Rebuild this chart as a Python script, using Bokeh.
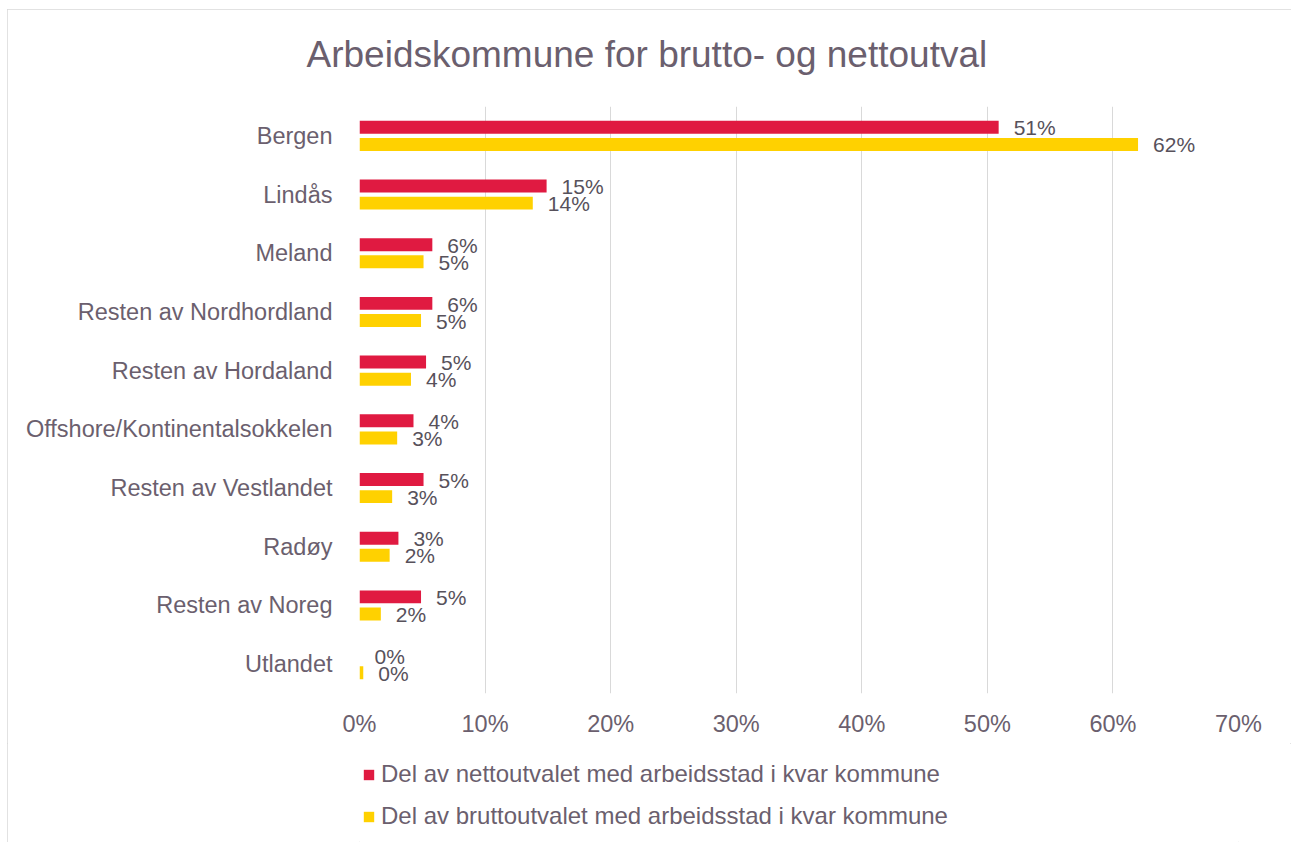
from bokeh.plotting import figure
from bokeh.layouts import column
from bokeh.models import (ColumnDataSource, FactorRange, Range1d, FixedTicker,
                          PrintfTickFormatter, Legend, LegendItem, Title)
from bokeh.transform import dodge
from bokeh.core.properties import value
from bokeh.embed import file_html
from bokeh.resources import INLINE

categories = ["Bergen", "Lindås", "Meland", "Resten av Nordhordland",
              "Resten av Hordaland", "Offshore/Kontinentalsokkelen",
              "Resten av Vestlandet", "Radøy", "Resten av Noreg", "Utlandet"]
netto = [50.9, 14.9, 5.8, 5.8, 5.3, 4.3, 5.1, 3.1, 4.9, 0.0]
brutto = [62.0, 13.8, 5.1, 4.9, 4.1, 3.0, 2.6, 2.4, 1.7, 0.3]
x_ticks = [0, 10, 20, 30, 40, 50, 60, 70]
title_text = "Arbeidskommune for brutto- og nettoutval"
netto_name = "Del av nettoutvalet med arbeidsstad i kvar kommune"
brutto_name = "Del av bruttoutvalet med arbeidsstad i kvar kommune"

RED = "#E01A41"
YELLOW = "#FFD100"
TXT = "#6B5F6E"
LBL = "#57515B"
FONT = "Liberation Sans"

src = ColumnDataSource(dict(
    cat=categories,
    netto=netto,
    brutto=brutto,
    netto_lbl=[f"{int(v + 0.5)}%" for v in netto],
    brutto_lbl=[f"{int(v + 0.5)}%" for v in brutto],
))

p = figure(width=1284, height=734, output_backend="svg", toolbar_location=None,
           y_range=FactorRange(*reversed(categories), range_padding=0),
           x_range=Range1d(0, 70),
           min_border_left=352, min_border_right=53,
           min_border_top=97, min_border_bottom=50)
p.outline_line_color = None

p.hbar(y=dodge("cat", 0.146, range=p.y_range), right="netto", left=0,
       height=0.22, source=src, fill_color=RED, line_color=None)
p.hbar(y=dodge("cat", -0.146, range=p.y_range), right="brutto", left=0,
       height=0.22, source=src, fill_color=YELLOW, line_color=None)

p.text(x="netto", y=dodge("cat", 0.135, range=p.y_range), text="netto_lbl",
       source=src, x_offset=15, text_align="left", text_baseline="middle",
       text_font=value(FONT), text_font_size="21px", text_color=LBL)
p.text(x="brutto", y=dodge("cat", -0.155, range=p.y_range), text="brutto_lbl",
       source=src, x_offset=15, text_align="left", text_baseline="middle",
       text_font=value(FONT), text_font_size="21px", text_color=LBL)

# axes
p.xaxis.ticker = FixedTicker(ticks=x_ticks)
p.xaxis.formatter = PrintfTickFormatter(format="%d%%")
p.xaxis.axis_line_color = None
p.xaxis.major_tick_line_color = None
p.xaxis.minor_tick_line_color = None
p.xaxis.major_label_standoff = 11
p.xaxis.major_label_text_font = FONT
p.xaxis.major_label_text_font_size = "23.5px"
p.xaxis.major_label_text_color = TXT

p.yaxis.axis_line_color = None
p.yaxis.major_tick_line_color = None
p.yaxis.minor_tick_line_color = None
p.yaxis.major_label_standoff = 21
p.yaxis.major_label_text_font = FONT
p.yaxis.major_label_text_font_size = "23.5px"
p.yaxis.major_label_text_color = TXT

p.xgrid.grid_line_color = "#D9D9D9"
p.xgrid.grid_line_width = 1
p.ygrid.grid_line_color = None

# title (with an empty spacer title between it and the frame)
p.title.text = title_text
p.title.align = "left"
p.title.offset = -53
p.title.standoff = 10
p.title.text_font = FONT
p.title.text_font_size = "37px"
p.title.text_font_style = "normal"
p.title.text_color = TXT
p.add_layout(Title(text=" ", text_font_size="1px", standoff=24), "above")

# legend figure below the chart (proxy renderers lie outside its view)
leg = figure(width=1284, height=99, output_backend="svg", toolbar_location=None,
             x_range=Range1d(1000, 1001), y_range=Range1d(1000, 1001),
             x_axis_location=None, y_axis_location=None,
             min_border_left=352, min_border_top=14,
             min_border_right=53, min_border_bottom=0)
leg.outline_line_color = None
leg.grid.visible = False
l_net = leg.hbar(y="netto", right="netto", left=0, height=0.5, source=src,
                 fill_color=RED, line_color=None)
l_bru = leg.hbar(y="brutto", right="brutto", left=0, height=0.5, source=src,
                 fill_color=YELLOW, line_color=None)
legend = Legend(items=[LegendItem(label=netto_name, renderers=[l_net]),
                       LegendItem(label=brutto_name, renderers=[l_bru])],
                location="top_left", orientation="vertical",
                glyph_width=13, glyph_height=13, label_standoff=6,
                label_height=28, spacing=14, padding=0, margin=3,
                border_line_color=None, background_fill_alpha=0,
                label_text_font=FONT, label_text_font_size="24px",
                label_text_color=TXT)
leg.add_layout(legend, "center")

lay = column(p, leg, spacing=0)
lay.styles = {"margin-left": "7px", "margin-top": "9px",
              "outline": "1px solid #d9d9d9", "outline-offset": "-1px"}

open("out.html", "w").write(file_html(lay, INLINE))
